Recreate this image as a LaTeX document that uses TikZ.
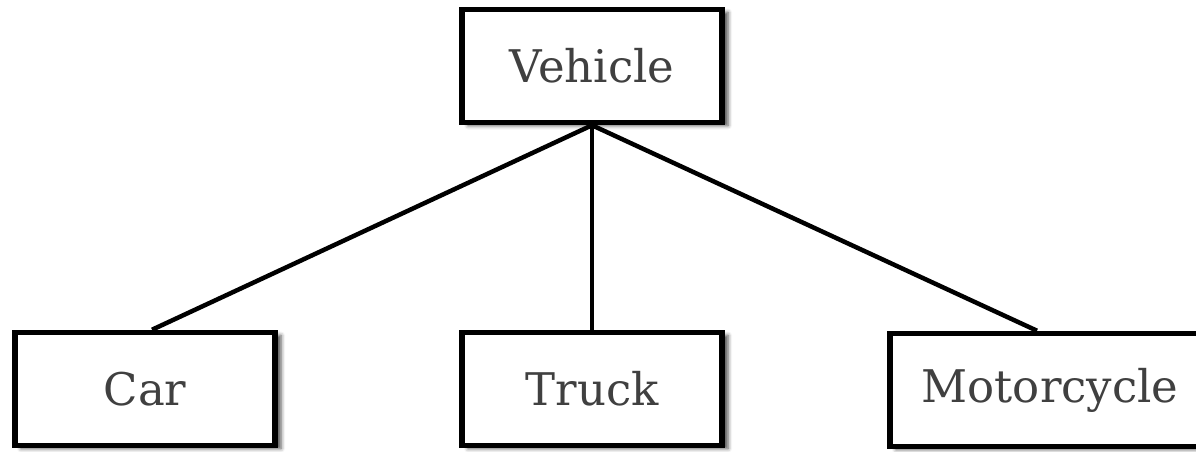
\documentclass[tikz,border=0pt]{standalone}
\usepackage{fontspec}
\setmainfont{DejaVu Serif}
\usetikzlibrary{shadows.blur}
\begin{document}
\begin{tikzpicture}[x=1pt,y=-1pt,
  box/.style={draw=black, line width=5.5pt, fill=white, rectangle, inner sep=0pt,
    minimum height=113pt, text=black!75,
    font=\fontsize{45}{52}\selectfont,
    blur shadow={shadow xshift=6pt, shadow yshift=-3pt, shadow blur radius=4pt, shadow opacity=70}},
  link/.style={line width=4.5pt, black}]
\useasboundingbox (0,0) rectangle (1196,452);
\node[box, minimum width=260pt] (veh) at (592,66) {Vehicle};
\node[box, minimum width=260pt] (car) at (145,389) {Car};
\node[box, minimum width=260pt] (truck) at (592,389) {Truck};
\node[box, minimum width=320pt] (moto) at (1050,390) {Motorcycle};
\draw[link] (veh.south) -- ([xshift=7pt]car.north);
\draw[link] (veh.south) -- (truck.north);
\draw[link] (veh.south) -- ([xshift=-13pt]moto.north);
\end{tikzpicture}
\end{document}
